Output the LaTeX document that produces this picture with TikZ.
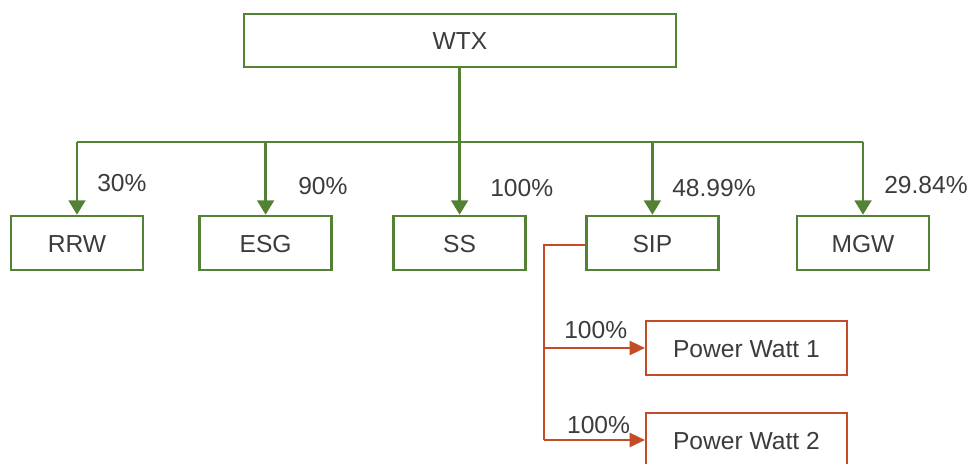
\documentclass[tikz,border=0pt]{standalone}
\usepackage{fontspec}
\setmainfont{Liberation Sans}
\usetikzlibrary{arrows.meta}

\definecolor{holdGreen}{RGB}{84,130,53}
\definecolor{holdRed}{RGB}{196,75,40}
\definecolor{holdText}{RGB}{60,60,60}

\tikzset{
    company/.style={draw=holdGreen, line width=1.8pt, minimum width=3.3cm, minimum height=1.35cm,
        text=holdText, font=\fontsize{17.5}{21}\selectfont, text height=2.5ex, text depth=0pt},
    subsidiary/.style={company, draw=holdRed, line width=1.5pt, minimum width=5.025cm},
    share/.style={anchor=west, text=holdText, font=\fontsize{17.5}{21}\selectfont, inner sep=0pt},
    owns/.style={draw=holdGreen, line width=1.8pt, -{Triangle[width=0.42cm,length=0.36cm]}},
    ownsFull/.style={draw=holdRed, line width=0.9pt, -{Triangle[width=0.36cm,length=0.38cm]}}
}

\begin{document}
\begin{tikzpicture}
    \useasboundingbox (0, 0) rectangle (24.425, 11.575);

    \node [company, minimum width=10.8cm, minimum height=1.325cm] (wtx) at (11.5, 10.5625) {WTX};

    \node [company] (rrw) at (1.925, 5.5) {RRW};
    \node [company] (esg) at (6.64, 5.5) {ESG};
    \node [company] (ss) at (11.49, 5.5) {SS};
    \node [company] (sip) at (16.31, 5.5) {SIP};
    \node [company] (mgw) at (21.575, 5.5) {MGW};

    \node [subsidiary] (pw1) at (18.66, 2.875) {Power Watt 1};
    \node [subsidiary] (pw2) at (18.66, 0.575) {Power Watt 2};

    \coordinate (bus) at (11.49, 8.025);
    \coordinate (trunk) at (13.6, 5.45);

    \draw [draw=holdGreen, line width=1.8pt] (wtx.south -| bus) -- (bus);
    \draw [draw=holdGreen, line width=1.8pt] (bus -| rrw.north) -- (bus -| mgw.north);
    \draw [owns] (bus -| rrw.north) -- (rrw.north);
    \draw [owns] (bus -| esg.north) -- (esg.north);
    \draw [owns] (bus -| ss.north) -- (ss.north);
    \draw [owns] (bus -| sip.north) -- (sip.north);
    \draw [owns] (bus -| mgw.north) -- (mgw.north);

    \node [share] (p1) at (2.425, 7.0) {30\%};
    \node [share] (p2) at (7.45, 6.925) {90\%};
    \node [share] (p3) at (12.25, 6.875) {100\%};
    \node [share] (p4) at (16.8, 6.875) {48.99\%};
    \node [share] (p5) at (22.1, 6.95) {29.84\%};

    \draw [draw=holdRed, line width=0.9pt] (sip.west |- trunk) -- (trunk) -- (trunk |- pw2.west);
    \draw [ownsFull] (trunk |- pw1.west) -- (pw1.west);
    \draw [ownsFull] (trunk |- pw2.west) -- (pw2.west);

    \node [share] (p6) at (14.1, 3.325) {100\%};
    \node [share] (p7) at (14.17, 0.95) {100\%};
\end{tikzpicture}
\end{document}
